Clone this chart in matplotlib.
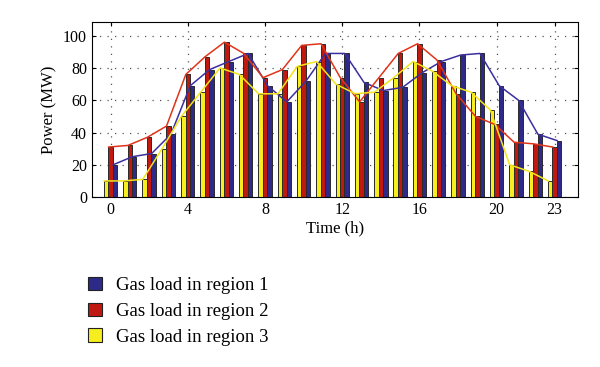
import numpy as np
import matplotlib.pyplot as plt
from matplotlib.patches import Patch

plt.rcParams['font.family'] = ['Liberation Serif', 'DejaVu Serif']

# Data
hours = list(range(24))
region1 = [20, 25, 27, 39, 69, 79, 84, 89, 69, 59, 72, 89, 89, 71, 66, 68,
           77, 84, 88, 89, 69, 60, 39, 35]
region2 = [31, 32, 37, 44, 76, 87, 96, 89, 74, 79, 94, 95, 74, 59, 74, 89,
           95, 85, 64, 50, 45, 34, 33, 31]
region3 = [10, 10, 11, 30, 50, 65, 80, 76, 64, 64, 81, 84, 70, 64, 65, 74,
           84, 78, 69, 65, 54, 20, 16, 10]
xtick_labels = [0, 4, 8, 12, 16, 20, 23]
ytick_labels = [0, 20, 40, 60, 80, 100]
series_names = ['Gas load in region 1', 'Gas load in region 2', 'Gas load in region 3']

bar_colors = ['#2e2a8a', '#c01a10', '#f6ee1e']
line_colors = ['#3b2fa0', '#e0341a', '#f4e41c']

fig = plt.figure(figsize=(6, 3.67), dpi=100)
ax = fig.add_axes([0.153, 0.463, 0.81, 0.478])

x = np.array(hours)
w = 0.23
# bar order inside a group: region 3, region 2, region 1
offsets = {0: w, 1: 0.0, 2: -w}
for i, vals in enumerate([region1, region2, region3]):
    ax.bar(x + offsets[i], vals, width=w, color=bar_colors[i],
           edgecolor='#2a2a2a', linewidth=0.7, zorder=2)
for i, vals in enumerate([region1, region2, region3]):
    ax.plot(x + offsets[i] - 0.1, vals, color=line_colors[i], linewidth=1.1, zorder=3)

ax.set_xlim(-0.97, 24.2)
ax.set_ylim(0, 108.7)
ax.set_xticks(xtick_labels)
ax.set_yticks(ytick_labels)
ax.tick_params(direction='in', top=True, right=True, labelsize=11.5, length=3)
ax.grid(True, linestyle=(0, (1, 5)), color='#555555', linewidth=0.9, zorder=0)
ax.set_axisbelow(True)
for s in ax.spines.values():
    s.set_linewidth(0.8)

ax.set_xlabel('Time (h)', fontsize=12, labelpad=2)
ax.set_ylabel('Power (MW)', fontsize=12, labelpad=4)

handles = [Patch(facecolor=c, edgecolor='#222222', linewidth=0.8) for c in bar_colors]
fig.legend(handles, series_names, loc='upper left', bbox_to_anchor=(0.118, 0.292),
           frameon=False, fontsize=13.5, handlelength=0.75, handleheight=0.75,
           handletextpad=0.75, labelspacing=0.45)

fig.savefig('out.png', dpi=100)
